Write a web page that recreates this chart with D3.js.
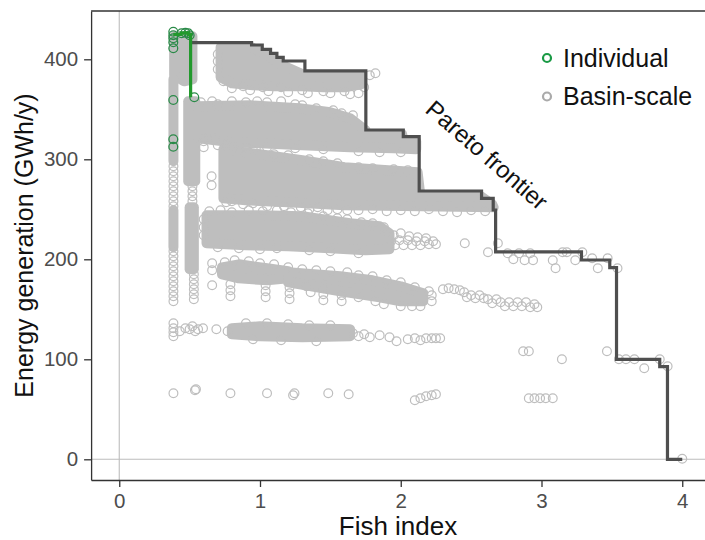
<!DOCTYPE html>
<html>
<head>
<meta charset="utf-8">
<script src="https://cdn.jsdelivr.net/npm/d3@7"></script>
<style>
  body { margin: 0; background: #fff; }
  text { font-family: "Liberation Sans", Arial, sans-serif; }
</style>
</head>
<body>
<div id="chart"></div>
<script>
// Pareto frontier of basin-scale solutions (step vertices, step-after)
const paretoFront = [
  [0.507, 416.6], [0.940, 414.3], [1.016, 410], [1.075, 406], [1.12, 402],
  [1.165, 398.3], [1.319, 388.5], [1.752, 329.3], [2.018, 322.6], [2.131, 268.3],
  [2.574, 261], [2.657, 249.3], [2.674, 207.5], [3.284, 199.3], [3.485, 191.6],
  [3.533, 100], [3.840, 92.6], [3.895, 0], [4.0, 0]
];

// Frontier of individual dams
const individualFront = [[0.384, 425], [0.44, 426.5], [0.49, 425], [0.507, 362]];

const individualPoints = [
  [0.384, 427.6], [0.384, 424], [0.384, 421], [0.384, 417], [0.384, 411],
  [0.443, 426], [0.47, 426.5], [0.49, 426], [0.50, 424], [0.533, 362],
  [0.384, 359.3], [0.384, 320], [0.384, 312.6]
];

// Dense basin-scale clusters: outlines of circle centres
const basinDense = [
  // top-left stack
  [[0.39, 423], [0.52, 423], [0.52, 380], [0.46, 378], [0.39, 384]],
  // left column
  [[0.385, 380], [0.385, 298]],
  [[0.385, 249], [0.385, 212]],
  // second column
  [[0.49, 358], [0.54, 358], [0.54, 278], [0.49, 278]],
  [[0.50, 252], [0.53, 252], [0.53, 190], [0.50, 190]],
  // band ~400
  [[0.72, 412], [0.94, 412], [1.01, 407], [1.07, 402], [1.12, 398], [1.16, 394],
   [1.32, 384], [1.72, 384], [1.72, 375], [1.60, 372], [1.45, 372], [1.30, 373],
   [1.10, 373], [0.95, 374], [0.80, 376], [0.72, 382]],
  // band ~330
  [[0.56, 353], [0.93, 354], [1.28, 351], [1.50, 347], [1.64, 341], [1.75, 329],
   [1.76, 325], [2.01, 325], [2.02, 318], [2.11, 318], [2.11, 310], [1.95, 311],
   [1.64, 312], [1.30, 314], [1.00, 316], [0.80, 317], [0.62, 320], [0.56, 322]],
  // band ~280
  [[0.74, 310], [1.00, 305], [1.30, 299], [1.60, 292], [2.12, 287], [2.14, 263],
   [2.57, 263], [2.65, 255], [2.66, 252], [2.15, 253], [1.60, 254], [1.20, 257],
   [0.90, 259], [0.74, 261]],
  // band ~230
  [[0.62, 244], [1.00, 244], [1.30, 243], [1.64, 236], [1.85, 233], [1.92, 226],
   [1.92, 210], [1.75, 209], [1.50, 211], [1.20, 213], [0.90, 214], [0.62, 216]],
  // band ~190
  [[0.73, 192], [0.85, 195], [1.05, 191], [1.20, 188], [1.20, 181], [1.05, 179],
   [0.85, 181], [0.73, 185]],
  [[1.20, 187], [1.57, 183], [1.80, 179], [2.00, 173], [2.16, 166], [2.16, 158],
   [2.00, 158], [1.85, 162], [1.57, 168], [1.20, 177]],
  // band ~125
  [[0.80, 131], [1.00, 133], [1.30, 131], [1.64, 130], [1.64, 123], [1.30, 122],
   [1.00, 123], [0.80, 125]]
];

// Separate basin-scale circles
const basinPoints = [
  // left column
  [0.385, 293], [0.385, 288], [0.385, 283], [0.385, 278], [0.385, 273], [0.385, 268],
  [0.385, 263], [0.385, 258], [0.385, 253], [0.385, 208], [0.385, 203], [0.385, 198],
  [0.385, 193], [0.385, 188], [0.385, 183], [0.385, 178], [0.385, 173], [0.385, 168],
  [0.385, 163], [0.385, 158], [0.385, 136], [0.385, 131], [0.385, 127], [0.385, 123],
  // second column
  [0.52, 273], [0.52, 268], [0.52, 263], [0.52, 258], [0.53, 185], [0.53, 180],
  [0.53, 175], [0.53, 170], [0.53, 165], [0.53, 160],
  // between columns and bands
  [0.595, 321], [0.68, 321], [0.60, 318], [0.60, 312], [0.656, 283], [0.656, 274],
  [0.66, 174], [0.60, 240], [0.60, 232], [0.60, 224], [0.66, 196], [0.66, 189],
  [0.70, 314], [0.75, 315], [0.82, 313], [0.90, 312], [0.97, 311],
  // band ~400 edges
  [0.70, 405], [0.70, 398], [0.70, 390], [0.74, 378], [0.80, 371], [0.88, 373],
  [0.93, 369], [1.02, 372], [1.06, 368], [1.15, 372], [1.20, 367], [1.30, 369],
  [1.34, 366], [1.45, 368], [1.50, 366], [1.60, 368], [1.64, 365], [1.70, 366],
  [1.74, 372], [1.78, 384], [1.82, 386],
  // band ~330 edges
  [0.58, 357], [0.66, 358], [0.70, 355], [0.80, 358], [0.90, 357], [0.98, 358],
  [1.05, 357], [1.15, 358], [1.25, 355], [1.30, 354], [1.40, 351], [1.52, 349],
  [1.58, 346], [1.66, 344], [1.05, 312], [1.25, 311], [1.45, 310], [1.70, 308],
  [1.85, 307], [2.00, 307],
  // band ~280 edges
  [0.76, 313], [0.85, 309], [0.95, 309], [1.10, 305], [1.20, 304], [1.35, 300],
  [1.45, 298], [1.55, 296], [1.70, 292], [1.80, 291], [1.95, 290], [2.05, 289],
  [0.76, 257], [0.80, 258], [0.88, 255], [0.95, 256], [1.05, 253], [1.17, 253],
  [1.29, 252], [1.35, 250], [1.41, 252], [1.48, 249], [1.55, 250], [1.62, 249],
  [1.70, 249], [1.80, 250], [1.90, 248], [2.00, 249], [2.10, 248], [2.20, 250],
  [2.30, 248], [2.40, 247], [2.50, 249], [2.60, 248],
  // band ~230 edges and right tail
  [0.64, 248], [0.72, 249], [0.80, 247], [0.92, 249], [1.02, 248], [1.12, 249],
  [1.22, 247], [1.34, 246], [1.45, 243], [1.55, 241], [1.62, 240], [1.72, 237],
  [1.80, 236], [1.88, 232],
  [0.70, 212], [0.85, 211], [1.00, 210], [1.12, 211], [1.35, 209], [1.50, 208],
  [1.70, 206], [1.93, 218], [1.96, 214], [1.99, 219], [2.02, 214], [2.05, 219],
  [2.08, 214], [2.11, 218], [2.14, 214], [2.17, 218], [2.20, 215], [2.23, 218],
  [2.25, 215], [1.95, 224], [2.00, 226], [2.06, 223], [2.12, 222], [2.18, 221],
  // band ~190 edges and hanging circles
  [0.75, 197], [0.82, 199], [0.92, 198], [1.00, 196], [1.10, 195], [1.20, 192],
  [1.30, 190], [1.40, 189], [1.50, 188], [1.62, 187], [1.70, 184], [1.80, 183],
  [1.90, 179], [2.00, 177], [2.10, 172], [2.20, 168],
  [0.79, 175], [0.79, 169], [0.79, 163], [1.04, 174], [1.04, 168], [1.04, 162],
  [1.21, 172], [1.21, 166], [1.21, 160], [1.33, 173], [1.36, 167], [1.45, 171],
  [1.45, 165], [1.45, 159], [1.58, 164], [1.58, 158], [1.70, 162], [1.82, 158],
  [1.88, 155], [2.00, 153], [2.08, 153], [2.14, 153], [2.22, 158], [2.22, 164],
  // right cluster ~160
  [2.30, 170], [2.34, 171], [2.38, 170], [2.42, 169], [2.45, 167], [2.47, 162],
  [2.50, 164], [2.53, 161], [2.56, 164], [2.59, 161], [2.62, 160], [2.65, 156],
  [2.68, 160], [2.71, 157], [2.74, 153], [2.77, 157], [2.80, 153], [2.83, 157],
  [2.86, 153], [2.89, 157], [2.92, 152], [2.95, 155], [2.97, 152],
  // band ~125
  [0.43, 128], [0.47, 131], [0.50, 130], [0.52, 133], [0.54, 128], [0.56, 130],
  [0.595, 131], [0.69, 130], [0.77, 128], [0.90, 136], [1.05, 136], [1.20, 135],
  [1.35, 134], [1.50, 134], [0.95, 120], [1.15, 119], [1.40, 118], [1.66, 126],
  [1.70, 123], [1.74, 125], [1.78, 122], [1.85, 124], [1.92, 122], [1.97, 118],
  [2.05, 120], [2.10, 121], [2.14, 119], [2.18, 121], [2.22, 121], [2.25, 121],
  [2.28, 121],
  // row ~65
  [0.385, 66], [0.538, 69], [0.545, 70], [0.79, 66], [1.05, 66], [1.235, 64],
  [1.245, 66], [1.485, 66], [1.63, 65], [2.10, 59], [2.14, 61], [2.18, 63],
  [2.22, 64], [2.25, 65], [2.91, 61], [2.95, 61], [2.99, 61], [3.03, 61], [3.08, 61],
  // scattered near the right frontier
  [2.455, 216], [2.62, 207], [2.69, 216], [2.76, 206], [2.80, 200], [2.84, 206],
  [2.88, 199], [2.92, 206], [2.94, 199], [3.08, 199], [3.10, 191], [3.15, 207],
  [3.18, 207], [3.24, 199], [3.29, 207], [3.36, 201], [3.40, 191], [3.47, 201],
  [3.54, 191], [2.87, 108], [2.91, 108], [3.145, 100], [3.465, 108], [3.55, 100],
  [3.60, 100], [3.66, 100], [3.73, 91], [3.84, 100], [3.896, 93], [4.0, 0.5]
];

const xTicks = [0, 1, 2, 3, 4];
const yTicks = [0, 100, 200, 300, 400];
const legendItems = ["Individual", "Basin-scale"];

const width = 705;
const height = 540;
const greyCol = "#bebebe";
const greenCol = "#1a9a45";
const r = 4.4;

const svg = d3.select("#chart").append("svg")
  .attr("width", width)
  .attr("height", height);

const x = d3.scaleLinear().domain([-0.2, 4.2]).range([91.1, 710.4]);
const y = d3.scaleLinear().domain([-20.7, 448.3]).range([480, 11]);

svg.append("clipPath").attr("id", "panel")
  .append("rect")
  .attr("x", x(-0.2)).attr("y", y(448.3))
  .attr("width", x(4.2) - x(-0.2)).attr("height", y(-20.7) - y(448.3));

// reference lines at 0
svg.append("line")
  .attr("x1", x(0)).attr("x2", x(0)).attr("y1", y(448.3)).attr("y2", y(-20.7))
  .attr("stroke", "#bdbdbd").attr("stroke-width", 1.1);
svg.append("line")
  .attr("x1", x(-0.2)).attr("x2", x(4.2)).attr("y1", y(0)).attr("y2", y(0))
  .attr("stroke", "#bdbdbd").attr("stroke-width", 1.1);

const plot = svg.append("g").attr("clip-path", "url(#panel)");

const closed = d3.line().x(d => x(d[0])).y(d => y(d[1])).curve(d3.curveLinearClosed);

plot.append("g").selectAll("path")
  .data(basinDense)
  .join("path")
  .attr("d", closed)
  .attr("fill", greyCol)
  .attr("stroke", greyCol)
  .attr("stroke-width", 2 * r + 1.2)
  .attr("stroke-linejoin", "round")
  .attr("stroke-linecap", "round");

plot.append("g").selectAll("circle")
  .data(basinPoints)
  .join("circle")
  .attr("cx", d => x(d[0]))
  .attr("cy", d => y(d[1]))
  .attr("r", r)
  .attr("fill", "none")
  .attr("stroke", greyCol)
  .attr("stroke-width", 1.2);

const step = d3.line().x(d => x(d[0])).y(d => y(d[1])).curve(d3.curveStepAfter);

plot.append("path")
  .attr("d", step(paretoFront))
  .attr("fill", "none")
  .attr("stroke", "#4f4f4f")
  .attr("stroke-width", 3.2);

plot.append("g").selectAll("circle")
  .data(individualPoints)
  .join("circle")
  .attr("cx", d => x(d[0]))
  .attr("cy", d => y(d[1]))
  .attr("r", r)
  .attr("fill", "none")
  .attr("stroke", "#2a8a48")
  .attr("stroke-width", 1.3);

plot.append("path")
  .attr("d", step(individualFront))
  .attr("fill", "none")
  .attr("stroke", "#22992c")
  .attr("stroke-width", 3.2);

// panel top border
svg.append("line")
  .attr("x1", x(-0.2)).attr("x2", width).attr("y1", y(448.3)).attr("y2", y(448.3))
  .attr("stroke", "#333").attr("stroke-width", 1.3);

const xAxis = svg.append("g")
  .attr("transform", `translate(0,${y(-20.7)})`)
  .call(d3.axisBottom(x).tickValues(xTicks).tickFormat(d3.format("d")).tickSize(7).tickSizeOuter(0).tickPadding(6));
const yAxis = svg.append("g")
  .attr("transform", `translate(${x(-0.2)},0)`)
  .call(d3.axisLeft(y).tickValues(yTicks).tickFormat(d3.format("d")).tickSize(7).tickSizeOuter(0).tickPadding(6));

[xAxis, yAxis].forEach(ax => {
  ax.select(".domain").attr("stroke", "#333").attr("stroke-width", 1.3);
  ax.selectAll(".tick line").attr("stroke", "#333").attr("stroke-width", 1.3);
  ax.selectAll(".tick text").attr("fill", "#4d4d4d").style("font-size", "20.5px")
    .style("font-family", "'Liberation Sans', Arial, sans-serif");
});

svg.append("text")
  .attr("x", 398)
  .attr("y", 535)
  .attr("text-anchor", "middle")
  .style("font-size", "26px")
  .attr("fill", "#111")
  .text("Fish index");

svg.append("text")
  .attr("transform", `translate(33,${(y(448.3) + y(-20.7)) / 2}) rotate(-90)`)
  .attr("text-anchor", "middle")
  .style("font-size", "25px")
  .attr("fill", "#111")
  .text("Energy generation (GWh/y)");

svg.append("text")
  .attr("transform", "translate(487,155) rotate(41)")
  .attr("text-anchor", "middle")
  .attr("dy", "0.35em")
  .style("font-size", "24px")
  .attr("fill", "#111")
  .text("Pareto frontier");

const legend = svg.append("g").attr("transform", "translate(547,58)");
legend.selectAll("circle")
  .data(legendItems)
  .join("circle")
  .attr("cx", 0)
  .attr("cy", (d, i) => i * 38.5)
  .attr("r", 4)
  .attr("fill", "none")
  .attr("stroke", (d, i) => (i === 0 ? greenCol : "#aaaaaa"))
  .attr("stroke-width", 2.2);
legend.selectAll("text")
  .data(legendItems)
  .join("text")
  .attr("x", 16)
  .attr("y", (d, i) => i * 38.5)
  .attr("dy", "0.35em")
  .style("font-size", "25px")
  .attr("fill", "#111")
  .text(d => d);
</script>
</body>
</html>
